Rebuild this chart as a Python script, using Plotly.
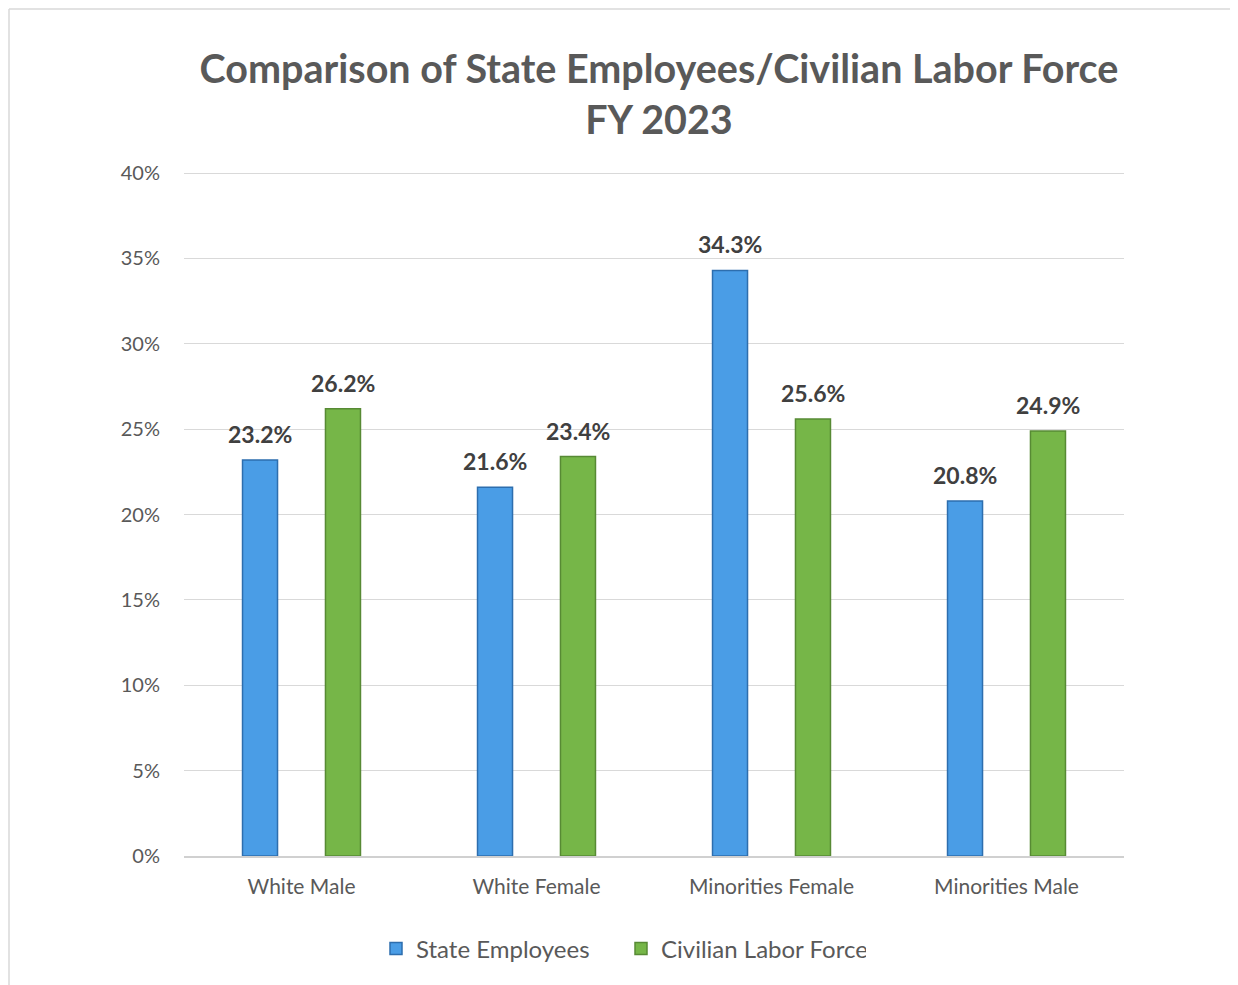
import plotly.graph_objects as go

categories = ["White Male", "White Female", "Minorities Female", "Minorities Male"]
state_employees = [23.2, 21.6, 34.3, 20.8]
civilian_labor = [26.2, 23.4, 25.6, 24.9]
y_ticks = [0, 5, 10, 15, 20, 25, 30, 35, 40]
y_tick_labels = [f"{v}%" for v in y_ticks]

FONT = "Lato, 'Open Sans', sans-serif"
W, H = 1238, 985
L, R, T, B = 176, 122, 160, 137
PW, PH = W - L - R, H - T - B

fig = go.Figure()
fig.add_trace(go.Bar(
    name="State Employees", x=categories, y=state_employees,
    marker=dict(color="#4a9de6", line=dict(color="#2d6eae", width=1.5)),
))
fig.add_trace(go.Bar(
    name="Civilian Labor Force", x=categories, y=civilian_labor,
    marker=dict(color="#76b648", line=dict(color="#578a34", width=1.5)),
))

annotations = []
for i, c in enumerate(categories):
    for vals, shift in ((state_employees, -41.5), (civilian_labor, 41.5)):
        annotations.append(dict(
            x=c, y=vals[i], xref="x", yref="y", text=f"{vals[i]:.1f}%",
            showarrow=False, xshift=shift, yanchor="bottom", yshift=10,
            font=dict(family=FONT, size=23, color="#404040", weight="bold"),
        ))

fig.update_layout(
    width=W, height=H,
    margin=dict(l=L, r=R, t=T, b=B),
    paper_bgcolor="white", plot_bgcolor="white",
    barmode="group", bargap=0.294, bargroupgap=0.578,
    title=dict(
        text="Comparison of State Employees/Civilian Labor Force<br>FY 2023",
        x=651 / W, xanchor="center", xref="container",
        y=1 - 75 / H, yanchor="top", yref="container",
        font=dict(family=FONT, size=39.5, color="#595959", weight="bold"),
    ),
    xaxis=dict(
        showgrid=False, showline=True, linecolor="#d0d0d0", linewidth=1.5,
        ticks="", tickfont=dict(family=FONT, size=21, color="#595959"),
        ticklabelstandoff=11,
    ),
    yaxis=dict(
        range=[0, 40.3], tickvals=y_ticks, ticktext=y_tick_labels,
        showgrid=True, gridcolor="#d9d9d9", gridwidth=1.2,
        zeroline=False, showline=False, ticks="",
        tickfont=dict(family=FONT, size=20, color="#595959"),
        ticklabelstandoff=23,
    ),
    legend=dict(
        orientation="h", x=(368 - L) / PW, xanchor="left",
        y=(848 - 941) / PH, yanchor="middle",
        font=dict(family=FONT, size=24, color="#595959"),
        itemwidth=30, traceorder="normal",
        entrywidth=200, entrywidthmode="pixels",
    ),
    annotations=annotations,
    shapes=[
        dict(type="line", xref="paper", yref="paper",
             x0=-(L - 1) / PW, x1=(W - L) / PW,
             y0=1 + (T - 1) / PH, y1=1 + (T - 1) / PH,
             line=dict(color="#d9d9d9", width=1.5)),
        dict(type="line", xref="paper", yref="paper",
             x0=-(L - 1) / PW, x1=-(L - 1) / PW,
             y0=1 + (T - 1) / PH, y1=-B / PH,
             line=dict(color="#d9d9d9", width=1.5)),
    ],
)

fig.write_html("out.html")
